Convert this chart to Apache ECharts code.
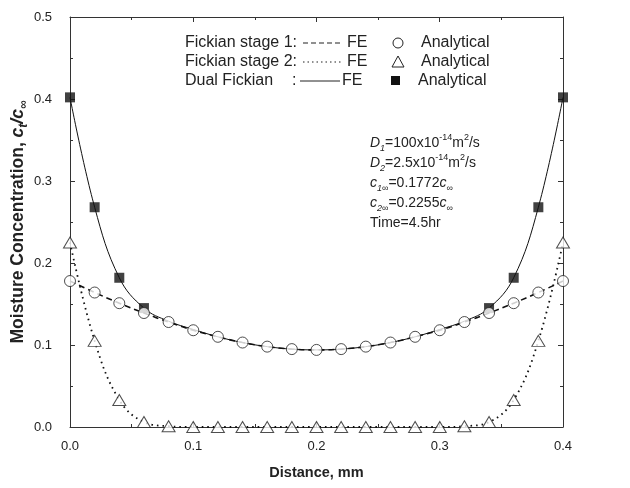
<!DOCTYPE html>
<html><head><meta charset="utf-8">
<script src="https://cdn.jsdelivr.net/npm/echarts@6/dist/echarts.min.js"></script>
<style>html,body{margin:0;padding:0;background:#fff}#c{width:630px;height:488px}</style>
</head><body><div id="c"></div>
<script>
// ---- data ----
const xValues = [0,0.02,0.04,0.06,0.08,0.10,0.12,0.14,0.16,0.18,0.20,0.22,0.24,0.26,0.28,0.30,0.32,0.34,0.36,0.38,0.40];
const stage1 = [0.178,0.164,0.151,0.139,0.128,0.118,0.110,0.103,0.098,0.095,0.094,0.095,0.098,0.103,0.110,0.118,0.128,0.139,0.151,0.164,0.178];
const stage2 = [0.225,0.105,0.033,0.006,0.001,0.000,0.000,0.000,0.000,0.000,0.000,0.000,0.000,0.000,0.000,0.000,0.001,0.006,0.033,0.105,0.225];
const dualFE = [0.402,0.268,0.182,0.145,0.129,0.119,0.110,0.103,0.098,0.095,0.094,0.095,0.098,0.103,0.110,0.119,0.129,0.145,0.182,0.268,0.402];
const dualPtsX = [0,0.02,0.04,0.06,0.34,0.36,0.38,0.40];
const dualPtsY = [0.402,0.268,0.182,0.145,0.145,0.182,0.268,0.402];
const xAxisRange = [0, 0.4, 0.1];
const yAxisRange = [0, 0.5, 0.1];

const FONT = "'Liberation Sans', Arial, sans-serif";
const pairs = (xs, ys) => xs.map((x, i) => [x, ys[i]]);

const chart = echarts.init(document.getElementById('c'), null, {renderer: 'canvas'});

const LEG = '16px ' + FONT;
const legText = (x, y, text, align) => ({
  type: 'text', x: x, y: y, silent: true,
  style: {text: text, font: LEG, fill: '#222', align: align || 'left', verticalAlign: 'middle'}
});

function axis(extra, range) {
  return Object.assign({
    type: 'value', show: true, min: range[0], max: range[1], interval: range[2],
    axisLine: {show: true, onZero: false, lineStyle: {color: '#333', width: 1}},
    axisTick: {show: true, inside: true, length: 5, lineStyle: {color: '#333'}},
    minorTick: {show: true, splitNumber: 2, length: 3, lineStyle: {color: '#333'}},
    splitLine: {show: false}
  }, extra);
}

const option = {
  backgroundColor: '#fff',
  animation: false,
  grid: [
    {left: 70, right: 67, top: 17, bottom: 61, containLabel: false, outerBoundsMode: 'none'},
    {left: 70, right: 67, top: 17, bottom: 61, containLabel: false, outerBoundsMode: 'none'}
  ],
  xAxis: [
    axis({
      gridIndex: 0, position: 'bottom',
      axisLabel: {color: '#222', fontFamily: FONT, fontSize: 13, margin: 13, formatter: v => v.toFixed(1)},
      name: 'Distance, mm', nameLocation: 'middle', nameGap: 38, nameMoveOverlap: false,
      nameTextStyle: {fontFamily: FONT, fontWeight: 'bold', fontSize: 14.5, color: '#222'}
    }, xAxisRange),
    axis({gridIndex: 1, position: 'top', axisLabel: {show: false}}, xAxisRange)
  ],
  yAxis: [
    axis({
      gridIndex: 0, position: 'left',
      axisLabel: {color: '#222', fontFamily: FONT, fontSize: 13, margin: 18, formatter: v => v.toFixed(1)},
      name: '{b|Moisture Concentration, }{bi|c}{s|t}{bi|/c}{s|∞}', nameLocation: 'middle', nameGap: 40, nameMoveOverlap: false,
      nameTextStyle: {
        fontFamily: FONT, fontWeight: 'bold', fontSize: 17.5, color: '#222',
        rich: {
          b: {fontFamily: FONT, fontWeight: 'bold', fontSize: 17.5, color: '#222', lineHeight: 23},
          bi: {fontFamily: FONT, fontWeight: 'bold', fontStyle: 'italic', fontSize: 17.5, color: '#222', lineHeight: 23},
          s: {fontFamily: FONT, fontWeight: 'bold', fontStyle: 'italic', fontSize: 12, color: '#222', verticalAlign: 'bottom', lineHeight: 23}
        }
      }
    }, yAxisRange),
    axis({gridIndex: 1, position: 'right', axisLabel: {show: false}}, yAxisRange)
  ],
  series: [
    {type: 'line', name: 'Dual FE', data: pairs(xValues, dualFE), smooth: 0.4, showSymbol: false, symbol: 'none',
     lineStyle: {color: '#111', width: 1}, z: 2},
    {type: 'line', name: 'Stage 1 FE', data: pairs(xValues, stage1), smooth: 0.4, showSymbol: false, symbol: 'none',
     lineStyle: {color: '#111', width: 1.6, type: [6, 4]}, z: 2},
    {type: 'line', name: 'Stage 2 FE', data: pairs(xValues, stage2), smooth: 0.4, showSymbol: false, symbol: 'none',
     lineStyle: {color: '#111', width: 1.8, type: [1.6, 4]}, z: 2},
    {type: 'scatter', name: 'Dual Analytical', data: pairs(dualPtsX, dualPtsY), symbol: 'rect', symbolSize: 10,
     itemStyle: {color: '#111'}, z: 3},
    {type: 'scatter', name: 'Stage 2 Analytical', data: pairs(xValues, stage2), symbol: 'triangle', symbolSize: [13, 11],
     itemStyle: {color: '#fff', borderColor: '#222', borderWidth: 1}, z: 4},
    {type: 'scatter', name: 'Stage 1 Analytical', data: pairs(xValues, stage1), symbol: 'circle', symbolSize: 11,
     itemStyle: {color: '#fff', borderColor: '#222', borderWidth: 1}, z: 5},
    // invisible series bound to the top/right frame axes so they are drawn
    {type: 'line', name: 'frame', xAxisIndex: 1, yAxisIndex: 1, data: pairs(xValues, stage1), silent: true,
     symbol: 'none', showSymbol: false, lineStyle: {opacity: 0, width: 0}, z: 0}
  ],
  graphic: [
    // legend
    legText(297, 43, 'Fickian stage 1:', 'right'),
    legText(297, 62, 'Fickian stage 2:', 'right'),
    legText(185, 81, 'Dual Fickian', 'left'),
    legText(292, 81, ':', 'left'),
    {type: 'line', silent: true, shape: {x1: 303, y1: 43, x2: 342, y2: 43}, style: {stroke: '#222', lineWidth: 1.2, lineDash: [5, 3]}},
    {type: 'line', silent: true, shape: {x1: 303, y1: 62, x2: 342, y2: 62}, style: {stroke: '#222', lineWidth: 1.2, lineDash: [1.5, 3]}},
    {type: 'line', silent: true, shape: {x1: 300, y1: 81, x2: 340, y2: 81}, style: {stroke: '#222', lineWidth: 1}},
    legText(347, 43, 'FE'),
    legText(347, 62, 'FE'),
    legText(342, 81, 'FE'),
    {type: 'circle', silent: true, shape: {cx: 398, cy: 43, r: 5}, style: {fill: '#fff', stroke: '#222', lineWidth: 1}},
    {type: 'polygon', silent: true, shape: {points: [[398, 56], [404, 67], [392, 67]]}, style: {fill: '#fff', stroke: '#222', lineWidth: 1}},
    {type: 'rect', silent: true, shape: {x: 391, y: 76, width: 9, height: 9}, style: {fill: '#111'}},
    legText(421, 43, 'Analytical'),
    legText(421, 62, 'Analytical'),
    legText(418, 81, 'Analytical'),
    // annotation
    {type: 'text', x: 370, y: 133, silent: true, style: {
      text: '{i|D}{sub|1}{n|=100x10}{sup|-14}{n|m}{sup|2}{n|/s}\n{i|D}{sub|2}{n|=2.5x10}{sup|-14}{n|m}{sup|2}{n|/s}\n{i|c}{sub|1∞}{n|=0.1772}{i|c}{sub|∞}\n{i|c}{sub|2∞}{n|=0.2255}{i|c}{sub|∞}\n{n|Time=4.5hr}',
      font: '14px ' + FONT, fill: '#222',
      rich: {
        n: {fontFamily: FONT, fontSize: 14, color: '#222', lineHeight: 20},
        i: {fontFamily: FONT, fontSize: 14, fontStyle: 'italic', color: '#222', lineHeight: 20},
        sub: {fontFamily: FONT, fontSize: 9, fontStyle: 'italic', color: '#222', verticalAlign: 'bottom', lineHeight: 20},
        sup: {fontFamily: FONT, fontSize: 9, color: '#222', verticalAlign: 'top', lineHeight: 20}
      }
    }}
  ]
};
chart.setOption(option);
</script>
</body></html>
